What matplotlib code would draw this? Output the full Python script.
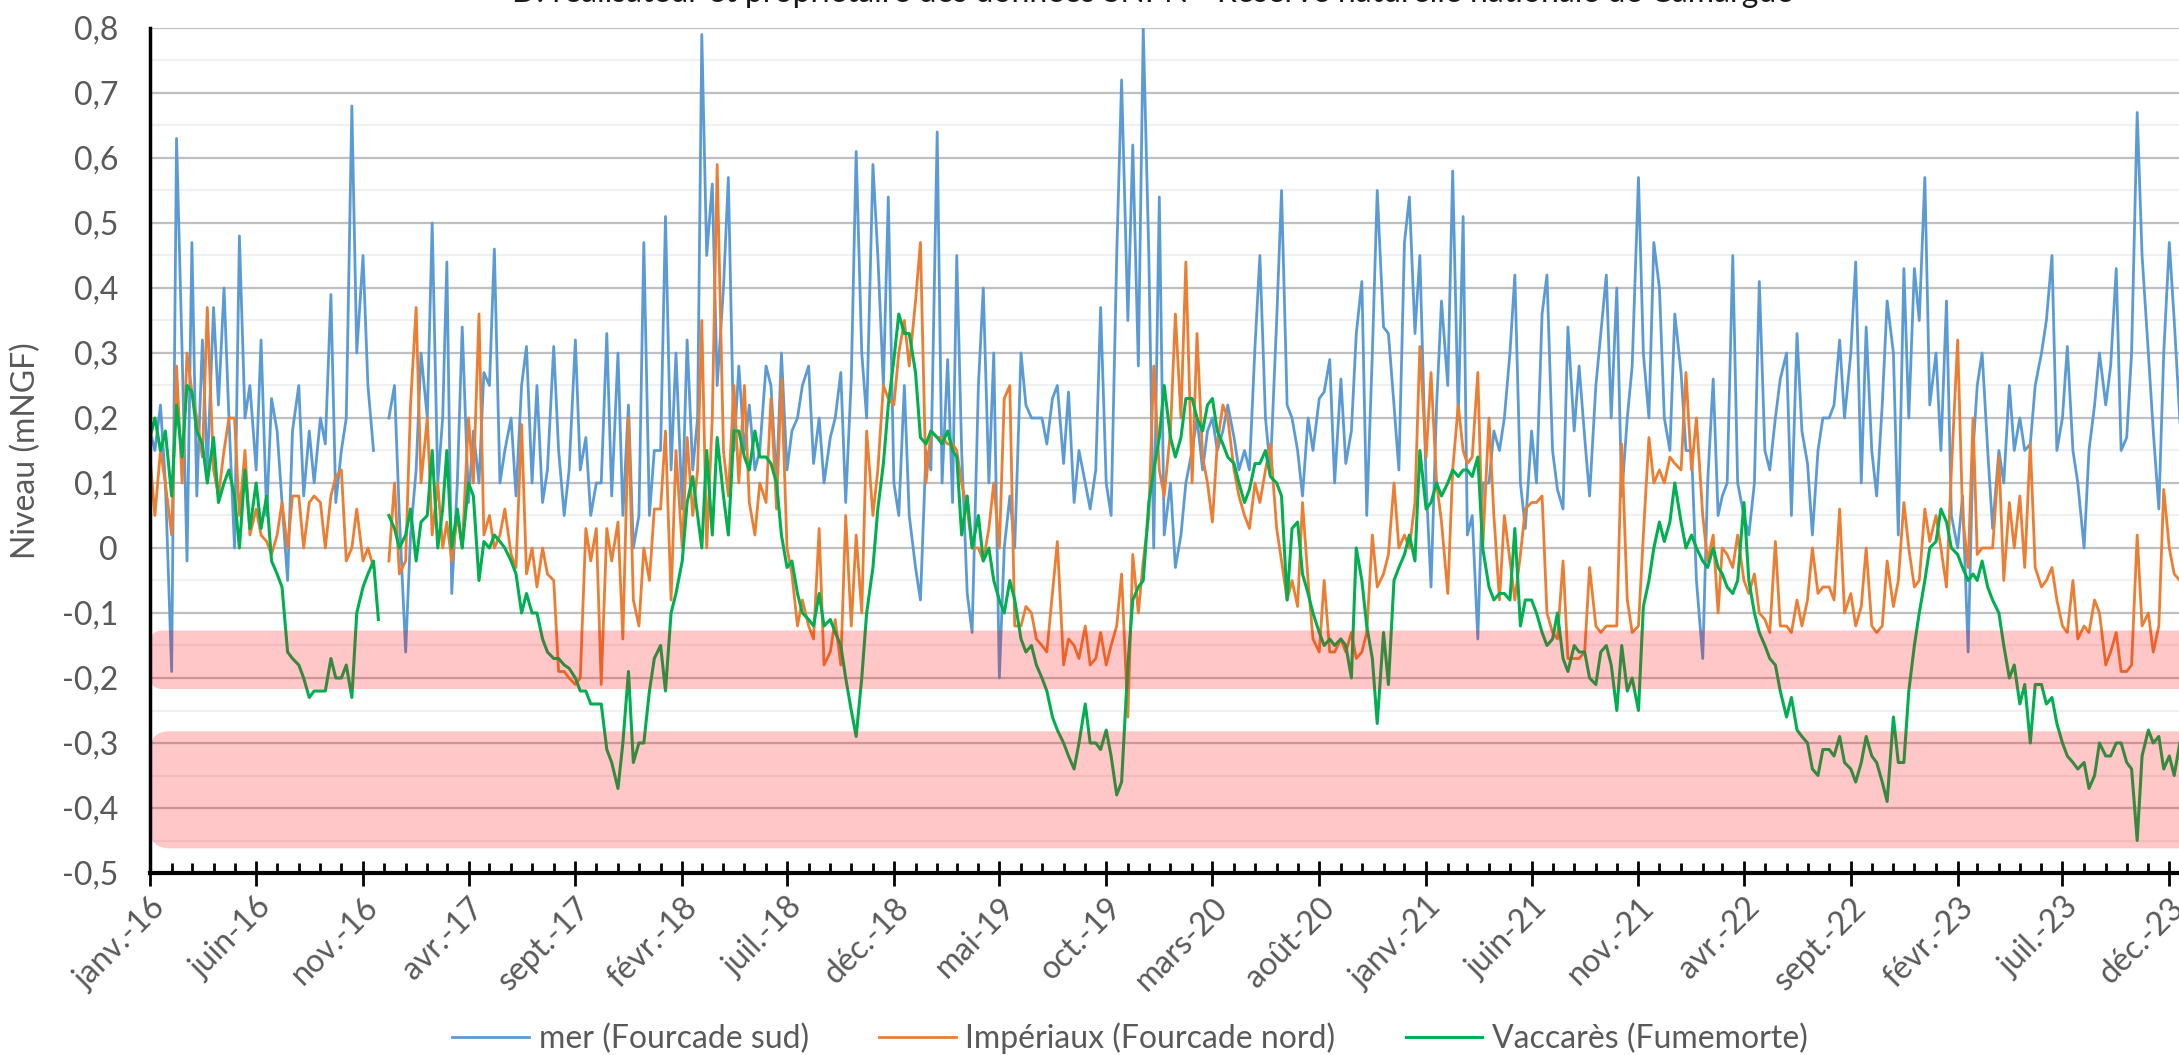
import numpy as np
import pandas as pd
import matplotlib
matplotlib.use("Agg")
import matplotlib.pyplot as plt
import matplotlib.dates as mdates
from matplotlib.patches import FancyBboxPatch

plt.rcParams['font.family'] = ['Lato', 'DejaVu Sans']

nan = np.nan

# Niveaux, 4 valeurs par mois (1, 8, 16, 23 du mois)
mer_2016 = [0.18, 0.15, 0.22, 0.10, -0.19, 0.63, 0.30, -0.02, 0.47, 0.08, 0.32, 0.12,
            0.37, 0.22, 0.40, 0.20, 0.00, 0.48, 0.20, 0.25, 0.12, 0.32, 0.05, 0.23,
            0.18, 0.07, -0.05, 0.18, 0.25, 0.08, 0.18, 0.10, 0.20, 0.16, 0.39, 0.07,
            0.15, 0.20, 0.68, 0.30, 0.45, 0.25, 0.15, nan, nan, 0.20, 0.25, 0.05]
mer_2017 = [-0.16, 0.02, 0.12, 0.30, 0.20, 0.50, 0.10, 0.20, 0.44, -0.07, 0.10, 0.34,
            0.07, 0.18, 0.10, 0.27, 0.25, 0.46, 0.10, 0.15, 0.20, 0.08, 0.25, 0.31,
            0.10, 0.25, 0.07, 0.12, 0.31, 0.15, 0.05, 0.12, 0.32, 0.12, 0.17, 0.05,
            0.10, 0.10, 0.33, 0.08, 0.30, 0.05, 0.22, 0.00, 0.05, 0.47, 0.05, 0.15]
mer_2018 = [0.15, 0.51, 0.12, 0.30, 0.06, 0.32, 0.12, 0.20, 0.79, 0.45, 0.56, 0.25,
            0.40, 0.57, 0.15, 0.28, 0.15, 0.22, 0.12, 0.15, 0.28, 0.25, 0.10, 0.30,
            0.12, 0.18, 0.20, 0.25, 0.28, 0.13, 0.20, 0.10, 0.17, 0.20, 0.27, 0.07,
            0.26, 0.61, 0.30, 0.20, 0.59, 0.45, 0.25, 0.54, 0.10, 0.05, 0.25, 0.05]
mer_2019 = [-0.03, -0.08, 0.15, 0.12, 0.64, 0.10, 0.29, 0.07, 0.45, 0.15, -0.07, -0.13,
            0.25, 0.40, 0.10, 0.30, -0.20, 0.00, 0.08, 0.00, 0.30, 0.22, 0.20, 0.20,
            0.20, 0.16, 0.23, 0.25, 0.13, 0.24, 0.07, 0.15, 0.10, 0.06, 0.12, 0.37,
            0.10, 0.05, 0.45, 0.72, 0.35, 0.62, 0.28, 0.80, 0.45, 0.00, 0.54, 0.02]
mer_2020 = [0.10, -0.03, 0.02, 0.10, 0.15, 0.20, 0.12, 0.18, 0.20, 0.15, 0.18, 0.22,
            0.17, 0.12, 0.15, 0.12, 0.31, 0.45, 0.20, 0.12, 0.35, 0.55, 0.22, 0.20,
            0.15, 0.08, 0.20, 0.15, 0.23, 0.24, 0.29, 0.10, 0.26, 0.13, 0.18, 0.33,
            0.41, 0.05, 0.30, 0.55, 0.34, 0.33, 0.22, 0.12, 0.47, 0.54, 0.33, 0.45]
mer_2021 = [0.10, -0.06, 0.22, 0.38, 0.25, 0.58, 0.20, 0.51, 0.02, 0.05, -0.14, 0.10,
            0.10, 0.18, 0.15, 0.20, 0.30, 0.42, 0.10, 0.03, 0.18, 0.10, 0.36, 0.42,
            0.15, 0.09, 0.06, 0.34, 0.18, 0.28, 0.17, 0.08, 0.25, 0.33, 0.42, 0.20,
            0.40, 0.08, 0.20, 0.28, 0.57, 0.30, 0.20, 0.47, 0.40, 0.20, 0.15, 0.36]
mer_2022 = [0.27, 0.15, 0.15, -0.05, -0.17, 0.10, 0.26, 0.05, 0.08, 0.10, 0.45, 0.10,
            0.05, 0.02, 0.10, 0.41, 0.15, 0.12, 0.20, 0.26, 0.30, 0.05, 0.33, 0.18,
            0.13, 0.02, 0.15, 0.20, 0.20, 0.22, 0.32, 0.20, 0.30, 0.44, 0.10, 0.34,
            0.15, 0.08, 0.22, 0.38, 0.30, 0.02, 0.43, 0.20, 0.43, 0.35, 0.57, 0.22]
mer_2023 = [0.30, 0.15, 0.38, 0.05, 0.00, 0.08, -0.16, 0.15, 0.25, 0.30, 0.15, 0.03,
            0.15, 0.10, 0.25, 0.15, 0.20, 0.15, 0.16, 0.25, 0.30, 0.35, 0.45, 0.15,
            0.20, 0.31, 0.15, 0.10, 0.00, 0.15, 0.22, 0.30, 0.22, 0.28, 0.43, 0.15,
            0.17, 0.30, 0.67, 0.45, 0.30, 0.18, 0.06, 0.30, 0.47, 0.35, 0.20, 0.05]

imp_2016 = [0.14, 0.05, 0.15, 0.10, 0.02, 0.28, 0.10, 0.30, 0.24, 0.20, 0.14, 0.37,
            0.12, 0.08, 0.15, 0.20, 0.20, 0.05, 0.15, 0.02, 0.06, 0.02, 0.01, -0.01,
            0.02, 0.07, 0.00, 0.08, 0.08, 0.00, 0.07, 0.08, 0.07, 0.00, 0.08, 0.11,
            0.12, -0.02, 0.00, 0.06, -0.02, 0.00, -0.03, nan, nan, -0.02, 0.10, -0.04]
imp_2017 = [-0.02, 0.22, 0.37, 0.10, 0.20, 0.02, 0.10, 0.00, 0.04, -0.02, 0.05, 0.00,
            0.20, 0.10, 0.36, 0.02, 0.05, 0.00, 0.02, 0.06, -0.01, -0.03, 0.19, -0.04,
            0.00, -0.06, 0.00, -0.04, -0.05, -0.19, -0.19, -0.20, -0.21, -0.20, 0.03, -0.02,
            0.03, -0.21, 0.03, -0.02, 0.04, -0.14, 0.20, -0.08, -0.12, 0.00, -0.05, 0.06]
imp_2018 = [0.06, 0.18, -0.08, 0.15, 0.00, 0.17, 0.05, 0.12, 0.35, 0.00, 0.20, 0.59,
            0.15, 0.08, 0.25, 0.10, 0.25, 0.07, 0.02, 0.10, 0.07, 0.23, 0.06, 0.26,
            0.00, -0.04, -0.12, -0.08, -0.12, -0.14, 0.03, -0.18, -0.16, -0.11, -0.18, 0.05,
            -0.12, 0.02, -0.10, 0.18, 0.05, 0.12, 0.25, 0.23, 0.22, 0.30, 0.35, 0.28]
imp_2019 = [0.38, 0.47, 0.10, 0.18, 0.17, 0.17, 0.16, 0.16, 0.15, 0.10, 0.06, 0.00,
            0.00, -0.02, 0.03, 0.10, 0.00, 0.23, 0.25, -0.12, -0.12, -0.09, -0.10, -0.14,
            -0.15, -0.16, -0.07, 0.01, -0.18, -0.14, -0.15, -0.17, -0.12, -0.18, -0.17, -0.13,
            -0.18, -0.15, -0.12, -0.04, -0.26, -0.01, -0.10, -0.02, 0.05, 0.28, 0.12, 0.08]
imp_2020 = [0.18, 0.36, 0.20, 0.44, 0.10, 0.33, 0.14, 0.10, 0.04, 0.16, 0.22, 0.20,
            0.12, 0.08, 0.05, 0.03, 0.10, 0.07, 0.12, 0.16, 0.03, -0.02, -0.08, -0.05,
            -0.09, 0.07, -0.05, -0.14, -0.16, -0.05, -0.16, -0.16, -0.14, -0.16, -0.13, -0.17,
            -0.16, -0.13, 0.02, -0.06, -0.04, -0.01, 0.10, 0.00, 0.02, 0.00, 0.07, 0.31]
imp_2021 = [0.14, 0.27, 0.10, 0.04, -0.07, 0.12, 0.22, 0.15, 0.13, 0.14, 0.27, 0.00,
            0.20, 0.05, -0.08, 0.05, -0.02, -0.08, -0.01, 0.06, 0.07, 0.07, 0.08, -0.10,
            -0.13, -0.14, -0.02, -0.17, -0.17, -0.17, -0.16, -0.03, -0.12, -0.13, -0.12, -0.12,
            -0.12, 0.16, -0.08, -0.13, -0.12, 0.02, 0.17, 0.10, 0.12, 0.10, 0.14, 0.13]
imp_2022 = [0.12, 0.27, 0.12, 0.20, 0.05, -0.02, 0.02, -0.10, 0.00, -0.01, -0.03, 0.02,
            -0.05, -0.07, -0.04, -0.10, -0.11, -0.13, 0.01, -0.12, -0.12, -0.13, -0.08, -0.12,
            -0.08, 0.00, -0.07, -0.06, -0.06, -0.08, 0.06, -0.10, -0.07, -0.12, -0.09, 0.00,
            -0.12, -0.13, -0.12, -0.02, -0.09, -0.05, 0.07, 0.00, -0.06, -0.05, 0.06, 0.01]
imp_2023 = [0.05, 0.00, -0.06, 0.12, 0.32, 0.05, -0.03, 0.20, -0.01, 0.00, 0.00, 0.00,
            0.14, -0.05, 0.07, 0.00, 0.08, -0.03, 0.16, -0.03, -0.06, -0.05, -0.03, -0.08,
            -0.12, -0.13, -0.05, -0.14, -0.12, -0.13, -0.08, -0.10, -0.18, -0.16, -0.13, -0.19,
            -0.19, -0.18, 0.02, -0.12, -0.10, -0.16, -0.12, 0.09, 0.00, -0.04, -0.05, -0.05]

vac_2016 = [0.17, 0.20, 0.15, 0.18, 0.08, 0.22, 0.14, 0.25, 0.24, 0.18, 0.16, 0.10,
            0.17, 0.07, 0.10, 0.12, 0.08, 0.00, 0.12, 0.03, 0.10, 0.03, 0.08, -0.02,
            -0.04, -0.06, -0.16, -0.17, -0.18, -0.20, -0.23, -0.22, -0.22, -0.22, -0.17, -0.20,
            -0.20, -0.18, -0.23, -0.10, -0.06, -0.04, -0.02, -0.11, nan, 0.05, 0.03, 0.00]
vac_2017 = [0.02, 0.06, -0.02, 0.04, 0.05, 0.15, 0.00, 0.06, 0.15, 0.00, 0.06, 0.00,
            0.10, 0.08, -0.05, 0.01, 0.00, 0.02, 0.01, 0.00, -0.02, -0.04, -0.10, -0.07,
            -0.10, -0.10, -0.14, -0.16, -0.17, -0.17, -0.18, -0.185, -0.20, -0.22, -0.22, -0.24,
            -0.24, -0.24, -0.31, -0.33, -0.37, -0.30, -0.19, -0.33, -0.30, -0.30, -0.22, -0.17]
vac_2018 = [-0.15, -0.22, -0.10, -0.07, -0.02, 0.07, 0.11, 0.05, 0.00, 0.15, 0.02, 0.17,
            0.08, 0.02, 0.18, 0.18, 0.14, 0.12, 0.18, 0.14, 0.14, 0.13, 0.10, 0.02,
            -0.03, -0.02, -0.07, -0.10, -0.11, -0.12, -0.07, -0.12, -0.11, -0.13, -0.15, -0.20,
            -0.25, -0.29, -0.20, -0.10, -0.03, 0.06, 0.13, 0.22, 0.29, 0.36, 0.33, 0.33]
vac_2019 = [0.27, 0.17, 0.16, 0.18, 0.17, 0.16, 0.18, 0.15, 0.14, 0.02, 0.08, 0.00,
            0.05, -0.02, 0.00, -0.05, -0.08, -0.10, -0.05, -0.08, -0.14, -0.16, -0.15, -0.18,
            -0.20, -0.22, -0.26, -0.28, -0.30, -0.32, -0.34, -0.30, -0.24, -0.30, -0.30, -0.31,
            -0.28, -0.32, -0.38, -0.36, -0.18, -0.08, -0.06, -0.05, 0.07, 0.12, 0.17, 0.25]
vac_2020 = [0.17, 0.14, 0.17, 0.23, 0.23, 0.20, 0.18, 0.22, 0.23, 0.18, 0.16, 0.14,
            0.13, 0.10, 0.07, 0.09, 0.13, 0.13, 0.15, 0.11, 0.10, 0.08, -0.08, 0.03,
            0.04, -0.04, -0.07, -0.10, -0.13, -0.15, -0.14, -0.15, -0.14, -0.15, -0.20, 0.00,
            -0.05, -0.12, -0.17, -0.27, -0.13, -0.21, -0.05, -0.03, -0.01, 0.02, -0.02, 0.15]
vac_2021 = [0.06, 0.07, 0.10, 0.08, 0.10, 0.12, 0.11, 0.12, 0.12, 0.11, 0.14, 0.00,
            -0.06, -0.08, -0.07, -0.07, -0.08, 0.03, -0.12, -0.08, -0.08, -0.10, -0.13, -0.15,
            -0.14, -0.10, -0.17, -0.19, -0.15, -0.16, -0.16, -0.20, -0.21, -0.16, -0.15, -0.18,
            -0.25, -0.15, -0.22, -0.20, -0.25, -0.09, -0.05, 0.00, 0.04, 0.01, 0.04, 0.10]
vac_2022 = [0.04, 0.00, 0.02, 0.00, -0.02, -0.03, 0.00, -0.03, -0.04, -0.06, -0.07, -0.05,
            0.07, -0.05, -0.10, -0.13, -0.15, -0.17, -0.18, -0.22, -0.26, -0.23, -0.28, -0.29,
            -0.30, -0.34, -0.35, -0.31, -0.31, -0.32, -0.29, -0.33, -0.34, -0.36, -0.33, -0.29,
            -0.32, -0.33, -0.36, -0.39, -0.26, -0.33, -0.33, -0.22, -0.15, -0.10, -0.05, 0.00]
vac_2023 = [0.01, 0.06, 0.04, 0.00, -0.01, -0.03, -0.05, -0.04, -0.05, -0.02, -0.06, -0.08,
            -0.10, -0.15, -0.20, -0.18, -0.24, -0.21, -0.30, -0.21, -0.21, -0.24, -0.23, -0.27,
            -0.30, -0.32, -0.33, -0.34, -0.33, -0.37, -0.35, -0.30, -0.32, -0.32, -0.30, -0.30,
            -0.33, -0.34, -0.45, -0.32, -0.28, -0.30, -0.29, -0.34, -0.32, -0.35, -0.30, -0.30]

years = list(range(2016, 2024))
sample_days = [1, 8, 16, 23]

tick_labels = ["janv.-16", "juin-16", "nov.-16", "avr.-17", "sept.-17", "févr.-18",
               "juil.-18", "déc.-18", "mai-19", "oct.-19", "mars-20", "août-20",
               "janv.-21", "juin-21", "nov.-21", "avr.-22", "sept.-22", "févr.-23",
               "juil.-23", "déc.-23"]

# zones roses (mNGF)
band_hi = (-0.217, -0.127)
band_lo = (-0.462, -0.282)

dates = [pd.Timestamp(y, m, d) for y in years for m in range(1, 13) for d in sample_days]
mer = np.concatenate([mer_2016, mer_2017, mer_2018, mer_2019, mer_2020, mer_2021, mer_2022, mer_2023])
imp = np.concatenate([imp_2016, imp_2017, imp_2018, imp_2019, imp_2020, imp_2021, imp_2022, imp_2023])
vac = np.concatenate([vac_2016, vac_2017, vac_2018, vac_2019, vac_2020, vac_2021, vac_2022, vac_2023])

W, H = 2179, 1055
FS = 23
fig = plt.figure(figsize=(W / 100, H / 100), dpi=100)

xmin = mdates.date2num(pd.Timestamp('2016-01-01'))
xmax = mdates.date2num(pd.Timestamp('2024-01-31'))
px_per_day = 2020 / (mdates.date2num(pd.Timestamp('2023-12-01')) - xmin)
ax_w = (xmax - xmin) * px_per_day / W
ax = fig.add_axes([150 / W, (H - 873) / H, ax_w, 845 / H])
ax.set_xlim(xmin, xmax)
ax.set_ylim(-0.5, 0.8)

ax.plot(dates, mer, color='#5b9bd5', lw=2.0, zorder=3, label='mer (Fourcade sud)')
ax.plot(dates, imp, color='#ed7d31', lw=2.0, zorder=3, label='Impériaux (Fourcade nord)')
ax.plot(dates, vac, color='#00b050', lw=2.2, zorder=3, label='Vaccarès (Fumemorte)')

# bandes roses arrondies par-dessus les courbes
aspect = px_per_day / (845 / 1.3)
for (lo, hi), r in [(band_hi, 18), (band_lo, 28)]:
    p = FancyBboxPatch((xmin, lo), xmax + 400 - xmin, hi - lo,
                       boxstyle=f"round,pad=0,rounding_size={r}",
                       mutation_aspect=aspect, facecolor='red', edgecolor='none',
                       alpha=0.22, zorder=4)
    ax.add_patch(p)

# grille
ax.set_yticks(np.arange(-0.5, 0.81, 0.1))
ax.set_yticks(np.arange(-0.45, 0.8, 0.1), minor=True)
ax.yaxis.grid(True, which='major', color='#bfbfbf', lw=1.6, zorder=0)
ax.yaxis.grid(True, which='minor', color='#f0f0f0', lw=1.6, zorder=0)
ax.set_axisbelow(True)


def fmt(v, pos=None):
    if abs(v) < 1e-9:
        return '0'
    return f"{v:.1f}".replace('.', ',')


ax.set_yticklabels([fmt(v) for v in np.arange(-0.5, 0.81, 0.1)])
ax.tick_params(axis='y', which='both', length=0, labelsize=FS, labelcolor='#595959', pad=23)

major = [pd.Timestamp(2016, 1, 1) + pd.DateOffset(months=5 * i) for i in range(len(tick_labels))]
minor = [pd.Timestamp(2016, 1, 1) + pd.DateOffset(months=i) for i in range(98)]
ax.set_xticks([mdates.date2num(d) for d in major])
ax.set_xticks([mdates.date2num(d) for d in minor], minor=True)
ax.set_xticklabels(tick_labels, rotation=45, ha='right', rotation_mode='anchor')
ax.tick_params(axis='x', which='major', direction='inout', length=18, width=2,
               labelsize=FS, labelcolor='#595959', pad=5)
ax.tick_params(axis='x', which='minor', direction='in', length=7, width=2)

for s in ['top', 'right']:
    ax.spines[s].set_visible(False)
ax.spines['left'].set_linewidth(2.5)
ax.spines['bottom'].set_linewidth(3)
ax.spines['left'].set_zorder(6)
ax.spines['bottom'].set_zorder(6)

fig.text(26 / W, 0.5 * ((H - 873) + (H - 28)) / H, 'Niveau (mNGF)', rotation=90,
         ha='center', va='center', fontsize=FS, color='#595959')

# titre coupé par le bord supérieur, comme sur l'original
fig.text(0.529, 1 - 2 / H,
         "D: réalisateur et propriétaire des données SNPN - Réserve naturelle nationale de Camargue",
         ha='center', va='baseline', fontsize=FS, color='#1a1a1a')

fig.legend(loc='center', bbox_to_anchor=(0.5186, 17 / H), ncol=3, frameon=False,
           fontsize=FS, labelcolor='#595959', handlelength=2.4, columnspacing=2.2,
           handletextpad=0.3)

fig.savefig('out.png', dpi=100)
